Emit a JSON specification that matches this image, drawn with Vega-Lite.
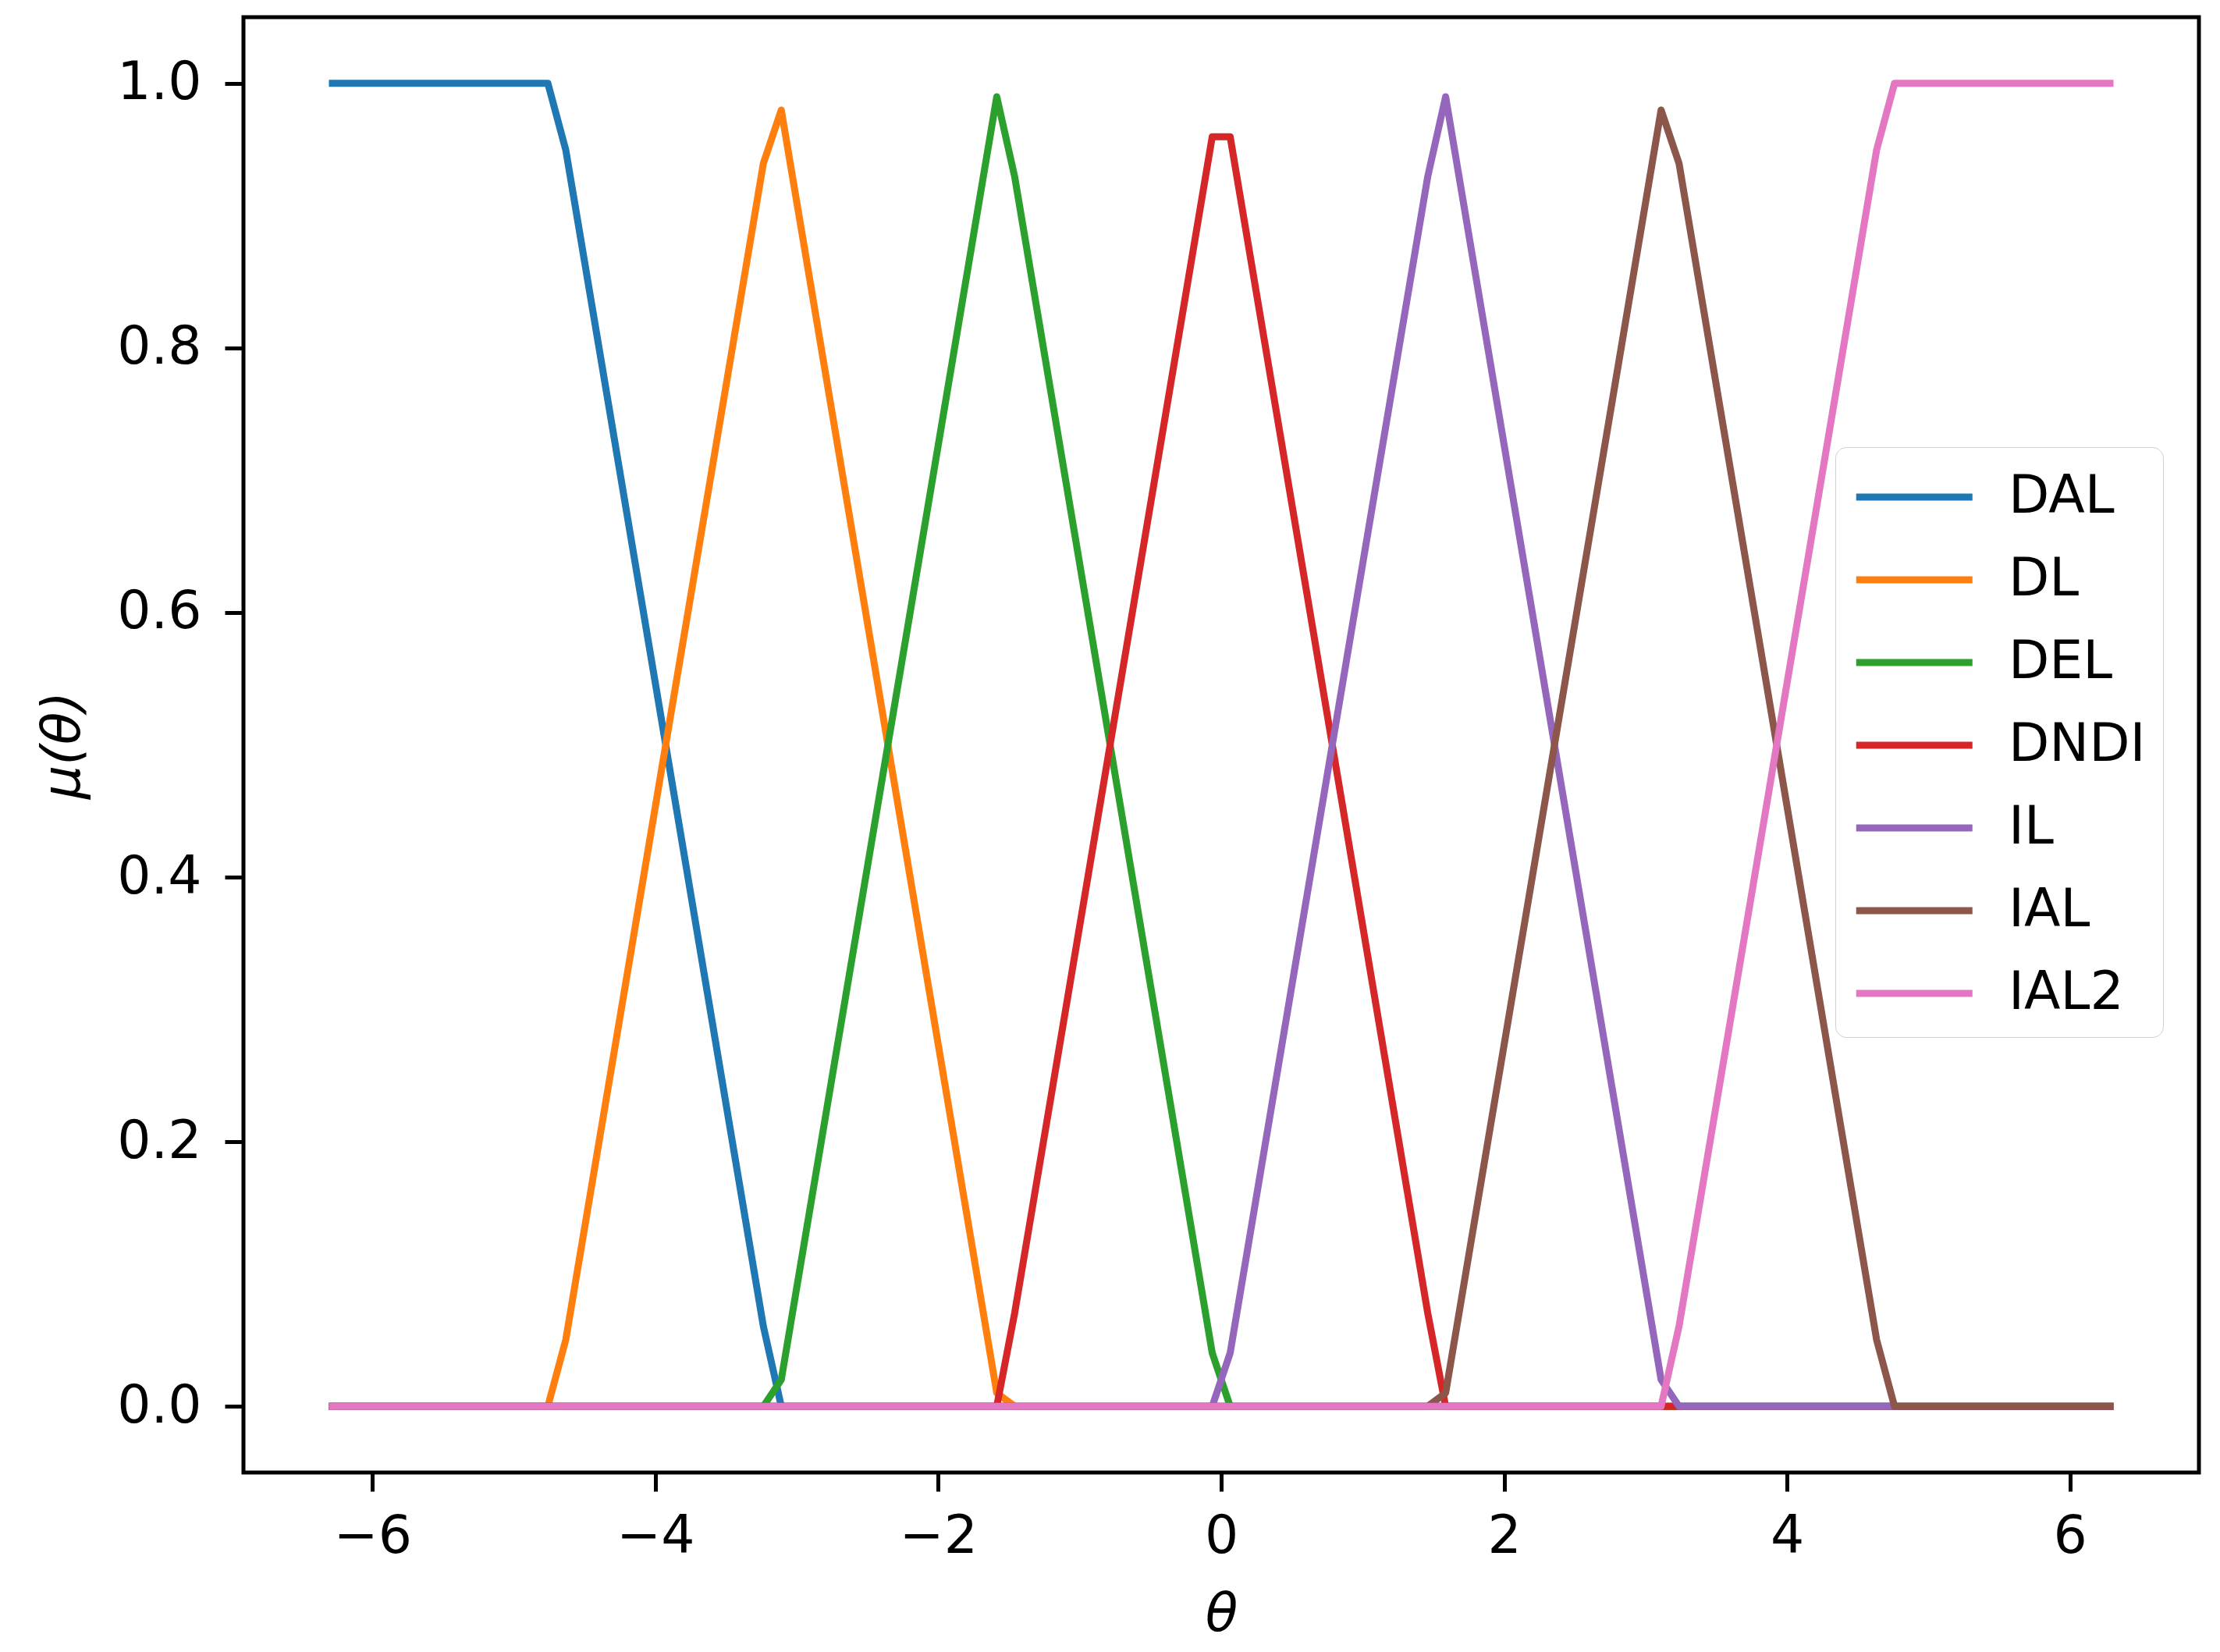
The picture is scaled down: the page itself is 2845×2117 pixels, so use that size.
{
  "$schema": "https://vega.github.io/schema/vega-lite/v6.json",
  "width": 2506,
  "height": 1865,
  "autosize": "none",
  "padding": {"left": 312, "top": 22, "right": 27, "bottom": 230},
  "background": "white",
  "config": {
    "font": "DejaVu Sans",
    "view": {"stroke": "black", "strokeWidth": 5},
    "axis": {"grid": false, "domain": false, "tickColor": "black", "tickWidth": 5, "tickSize": 24, "labelFont": "DejaVu Sans", "labelFontSize": 68, "labelColor": "black", "titleFont": "DejaVu Sans", "titleFontSize": 68, "titleFontWeight": "normal", "titleColor": "black"},
    "legend": {"fillColor": "rgba(255,255,255,0.8)", "strokeColor": "#d0d0d0", "cornerRadius": 14, "padding": 22}
  },
  "data": {
    "values": [
      {"s": "DAL", "x": -6.283185, "y": 1},
      {"s": "DAL", "x": -4.759989, "y": 1},
      {"s": "DAL", "x": -4.633056, "y": 0.9495},
      {"s": "DAL", "x": -3.236793, "y": 0.0606},
      {"s": "DAL", "x": -3.10986, "y": 0},
      {"s": "DAL", "x": 6.283185, "y": 0},
      {"s": "DL", "x": -6.283185, "y": 0},
      {"s": "DL", "x": -4.759989, "y": 0},
      {"s": "DL", "x": -4.633056, "y": 0.0505},
      {"s": "DL", "x": -3.236793, "y": 0.9394},
      {"s": "DL", "x": -3.10986, "y": 0.9798},
      {"s": "DL", "x": -1.586664, "y": 0.0101},
      {"s": "DL", "x": -1.459731, "y": 0},
      {"s": "DL", "x": 6.283185, "y": 0},
      {"s": "DEL", "x": -6.283185, "y": 0},
      {"s": "DEL", "x": -3.236793, "y": 0},
      {"s": "DEL", "x": -3.10986, "y": 0.0202},
      {"s": "DEL", "x": -1.586664, "y": 0.9899},
      {"s": "DEL", "x": -1.459731, "y": 0.9293},
      {"s": "DEL", "x": -0.063467, "y": 0.0404},
      {"s": "DEL", "x": 0.063467, "y": 0},
      {"s": "DEL", "x": 6.283185, "y": 0},
      {"s": "DNDI", "x": -6.283185, "y": 0},
      {"s": "DNDI", "x": -1.586664, "y": 0},
      {"s": "DNDI", "x": -1.459731, "y": 0.0707},
      {"s": "DNDI", "x": -0.063467, "y": 0.9596},
      {"s": "DNDI", "x": 0.063467, "y": 0.9596},
      {"s": "DNDI", "x": 1.459731, "y": 0.0707},
      {"s": "DNDI", "x": 1.586664, "y": 0},
      {"s": "DNDI", "x": 6.283185, "y": 0},
      {"s": "IL", "x": -6.283185, "y": 0},
      {"s": "IL", "x": -0.063467, "y": 0},
      {"s": "IL", "x": 0.063467, "y": 0.0404},
      {"s": "IL", "x": 1.459731, "y": 0.9293},
      {"s": "IL", "x": 1.586664, "y": 0.9899},
      {"s": "IL", "x": 3.10986, "y": 0.0202},
      {"s": "IL", "x": 3.236793, "y": 0},
      {"s": "IL", "x": 6.283185, "y": 0},
      {"s": "IAL", "x": -6.283185, "y": 0},
      {"s": "IAL", "x": 1.459731, "y": 0},
      {"s": "IAL", "x": 1.586664, "y": 0.0101},
      {"s": "IAL", "x": 3.10986, "y": 0.9798},
      {"s": "IAL", "x": 3.236793, "y": 0.9394},
      {"s": "IAL", "x": 4.633056, "y": 0.0505},
      {"s": "IAL", "x": 4.759989, "y": 0},
      {"s": "IAL", "x": 6.283185, "y": 0},
      {"s": "IAL2", "x": -6.283185, "y": 0},
      {"s": "IAL2", "x": 3.10986, "y": 0},
      {"s": "IAL2", "x": 3.236793, "y": 0.0606},
      {"s": "IAL2", "x": 4.633056, "y": 0.9495},
      {"s": "IAL2", "x": 4.759989, "y": 1},
      {"s": "IAL2", "x": 6.283185, "y": 1}
    ]
  },
  "mark": {"type": "line", "strokeWidth": 9, "strokeCap": "square", "strokeJoin": "round", "clip": true},
  "encoding": {
    "x": {
      "field": "x", "type": "quantitative",
      "scale": {"domain": [-6.912, 6.912], "nice": false, "zero": false},
      "axis": {"title": "θ", "titleFontStyle": "italic", "values": [-6, -4, -2, 0, 2, 4, 6], "labelExpr": "replace(datum.label, '-', '−')", "labelPadding": 24, "titlePadding": 32}
    },
    "y": {
      "field": "y", "type": "quantitative",
      "scale": {"domain": [-0.05, 1.05], "nice": false, "zero": false},
      "axis": {"title": "μ(θ)", "titleFontStyle": "italic", "values": [0, 0.2, 0.4, 0.6, 0.8, 1.0], "format": ".1f", "labelPadding": 30, "titlePadding": 34}
    },
    "color": {
      "field": "s", "type": "nominal",
      "scale": {"domain": ["DAL", "DL", "DEL", "DNDI", "IL", "IAL", "IAL2"], "range": ["#1f77b4", "#ff7f0e", "#2ca02c", "#d62728", "#9467bd", "#8c564b", "#e377c2"]},
      "legend": {
        "title": null, "orient": "none", "legendX": 2040, "legendY": 551,
        "symbolType": "M-1,0H3", "symbolSize": 5550, "symbolStrokeWidth": 9, "symbolFillColor": "transparent",
        "labelFont": "DejaVu Sans", "labelFontSize": 68, "labelColor": "black", "labelOffset": 116, "labelLimit": 0,
        "rowPadding": 30
      }
    }
  }
}
